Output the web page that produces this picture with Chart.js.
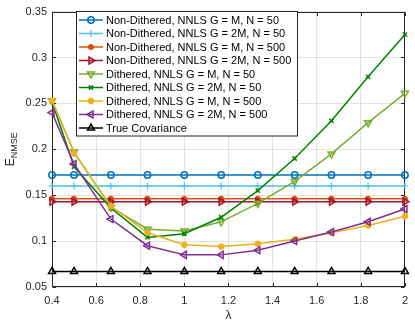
<!DOCTYPE html>
<html>
<head>
<meta charset="utf-8">
<script src="https://cdn.jsdelivr.net/npm/chart.js@4/dist/chart.umd.min.js"></script>
<style>
html, body { margin: 0; padding: 0; background: #fff; }
#wrap { width: 415px; height: 324px; }
</style>
</head>
<body>
<div id="wrap"><canvas id="nmseChart"></canvas></div>
<script>
// x values (lambda)
const lambdas = [0.4, 0.5, 0.667, 0.833, 1, 1.167, 1.333, 1.5, 1.667, 1.833, 2];

// series values
const nonDithM50   = [0.172, 0.172, 0.172, 0.172, 0.172, 0.172, 0.172, 0.172, 0.172, 0.172, 0.172];
const nonDith2M50  = [0.160, 0.160, 0.160, 0.160, 0.160, 0.160, 0.160, 0.160, 0.160, 0.160, 0.160];
const nonDithM500  = [0.146, 0.146, 0.146, 0.146, 0.146, 0.146, 0.146, 0.146, 0.146, 0.146, 0.146];
const nonDith2M500 = [0.143, 0.143, 0.143, 0.143, 0.143, 0.143, 0.143, 0.143, 0.143, 0.143, 0.143];
const dithM50      = [0.253, 0.197, 0.137, 0.113, 0.111, 0.121, 0.141, 0.165, 0.195, 0.229, 0.261];
const dith2M50     = [0.252, 0.181, 0.136, 0.104, 0.108, 0.126, 0.155, 0.190, 0.231, 0.279, 0.325];
const dithM500     = [0.253, 0.196, 0.138, 0.109, 0.096, 0.094, 0.097, 0.102, 0.109, 0.117, 0.127];
const dith2M500    = [0.240, 0.184, 0.124, 0.095, 0.085, 0.085, 0.090, 0.100, 0.110, 0.121, 0.135];
const trueCov      = [0.067, 0.067, 0.067, 0.067, 0.067, 0.067, 0.067, 0.067, 0.067, 0.067, 0.067];

const seriesLabels = [
    'Non-Dithered, NNLS G = M, N = 50',
    'Non-Dithered, NNLS G = 2M, N = 50',
    'Non-Dithered, NNLS G = M, N = 500',
    'Non-Dithered, NNLS G = 2M, N = 500',
    'Dithered, NNLS G = M, N = 50',
    'Dithered, NNLS G = 2M, N = 50',
    'Dithered, NNLS G = M, N = 500',
    'Dithered, NNLS G = 2M, N = 500',
    'True Covariance'
];
const seriesValues = [nonDithM50, nonDith2M50, nonDithM500, nonDith2M500, dithM50, dith2M50, dithM500, dith2M500, trueCov];

const xTicks = [0.4, 0.6, 0.8, 1, 1.2, 1.4, 1.6, 1.8, 2];
const yTicks = [0.05, 0.1, 0.15, 0.2, 0.25, 0.3, 0.35];

// styling per series
const colors = ['#0072BD', '#4DBEEE', '#D95319', '#A2142F', '#77AC30', '#008000', '#EDB120', '#7E2F8E', '#000000'];
const markers = [
    {style: 'circle', rot: 0, r: 3.2, bw: 1.5},
    {style: 'cross', rot: 0, r: 3.5, bw: 1.2},
    {style: 'star', rot: 0, r: 3, bw: 2.5},
    {style: 'triangle', rot: 90, r: 4, bw: 1.5},
    {style: 'triangle', rot: 180, r: 4, bw: 1.5},
    {style: 'crossRot', rot: 0, r: 3, bw: 1.5},
    {style: 'star', rot: 0, r: 3.2, bw: 2.8},
    {style: 'triangle', rot: 270, r: 4, bw: 1.5},
    {style: 'triangle', rot: 0, r: 4, bw: 1.5}
];

const datasets = seriesValues.map((vals, i) => ({
    label: seriesLabels[i],
    data: vals.map((v, j) => ({x: lambdas[j], y: v})),
    borderColor: colors[i],
    backgroundColor: colors[i],
    borderWidth: 1.5,
    pointStyle: markers[i].style,
    rotation: markers[i].rot,
    pointRadius: markers[i].r,
    pointBorderWidth: markers[i].bw,
    pointBorderColor: colors[i],
    pointBackgroundColor: 'rgba(255,255,255,0)',
    tension: 0,
    clip: false,
    order: seriesValues.length - i
}));

const axisColor = '#262626';
const fontFamily = '"Liberation Sans", Arial, Helvetica, sans-serif';

// box round the axes with inward tick marks, like matlab
const boxPlugin = {
    id: 'box',
    beforeDatasetsDraw(chart) {
        const {ctx, chartArea: a, scales} = chart;
        const L = Math.round(a.left) + 0.5, R = Math.round(a.right) - 0.5;
        const T = Math.round(a.top) + 0.5, B = Math.round(a.bottom) - 0.5;
        ctx.save();
        ctx.strokeStyle = axisColor;
        ctx.lineWidth = 1;
        ctx.strokeRect(L, T, R - L, B - T);
        ctx.beginPath();
        xTicks.forEach(t => {
            const px = Math.round(scales.x.getPixelForValue(t)) + 0.5;
            ctx.moveTo(px, B); ctx.lineTo(px, B - 3.5);
            ctx.moveTo(px, T); ctx.lineTo(px, T + 3.5);
        });
        yTicks.forEach(t => {
            const py = Math.round(scales.y.getPixelForValue(t)) + 0.5;
            ctx.moveTo(L, py); ctx.lineTo(L + 3.5, py);
            ctx.moveTo(R, py); ctx.lineTo(R - 3.5, py);
        });
        ctx.stroke();
        ctx.restore();
    },
    afterDraw(chart) {
        const {ctx, chartArea: a} = chart;
        ctx.save();
        // x label
        ctx.fillStyle = axisColor;
        ctx.font = '12px ' + fontFamily;
        ctx.textAlign = 'center';
        ctx.textBaseline = 'middle';
        ctx.fillText('\u03bb', (a.left + a.right) / 2, 316);
        // y label E_NMSE
        ctx.translate(11, (a.top + a.bottom) / 2);
        ctx.rotate(-Math.PI / 2);
        ctx.textAlign = 'left';
        ctx.font = '12px ' + fontFamily;
        const eW = ctx.measureText('E').width;
        ctx.font = '9px ' + fontFamily;
        const sW = ctx.measureText('NMSE').width;
        const start = -(eW + sW) / 2;
        ctx.font = '12px ' + fontFamily;
        ctx.fillText('E', start, 0);
        ctx.font = '9px ' + fontFamily;
        ctx.fillText('NMSE', start + eW, 3.5);
        ctx.restore();

        // legend box
        const lx = 76.5, ly = 11.5, lw = 221, lh = 124.5, rowH = 13.5;
        ctx.save();
        ctx.fillStyle = '#ffffff';
        ctx.fillRect(lx, ly, lw, lh);
        ctx.strokeStyle = axisColor;
        ctx.lineWidth = 1;
        ctx.strokeRect(lx, ly, lw, lh);
        ctx.font = '11px ' + fontFamily;
        ctx.textBaseline = 'middle';
        seriesLabels.forEach((lab, i) => {
            const cy = 20 + i * rowH;
            ctx.strokeStyle = colors[i];
            ctx.lineWidth = 1.5;
            ctx.beginPath();
            ctx.moveTo(79, cy);
            ctx.lineTo(103, cy);
            ctx.stroke();
            ctx.fillStyle = 'rgba(255,255,255,0)';
            ctx.lineWidth = markers[i].bw;
            Chart.helpers.drawPoint(ctx, {
                pointStyle: markers[i].style,
                rotation: markers[i].rot,
                radius: markers[i].r,
                borderWidth: markers[i].bw
            }, 91, cy);
            ctx.fillStyle = '#000000';
            ctx.fillText(lab, 106, cy + 0.5);
        });
        ctx.restore();
    }
};

const ctx = document.getElementById('nmseChart');
new Chart(ctx, {
    type: 'line',
    data: { datasets: datasets },
    options: {
        responsive: true,
        maintainAspectRatio: false,
        animation: false,
        layout: { padding: { top: 7, right: 8, left: 0, bottom: 0 } },
        scales: {
            x: {
                type: 'linear',
                min: 0.4,
                max: 2,
                afterFit: s => { s.height = 37; },
                afterBuildTicks: s => { s.ticks = xTicks.map(v => ({value: v})); },
                grid: { color: 'rgba(38,38,38,0.13)', drawTicks: false },
                border: { display: false },
                ticks: {
                    padding: 7,
                    color: axisColor,
                    font: { family: fontFamily, size: 11 },
                    callback: v => String(parseFloat(v.toFixed(2)))
                }
            },
            y: {
                min: 0.05,
                max: 0.35,
                afterFit: s => { s.width = 52; },
                afterBuildTicks: s => { s.ticks = yTicks.map(v => ({value: v})); },
                grid: { color: 'rgba(38,38,38,0.13)', drawTicks: false },
                border: { display: false },
                ticks: {
                    padding: 5,
                    color: axisColor,
                    font: { family: fontFamily, size: 11 },
                    callback: v => String(parseFloat(v.toFixed(2)))
                }
            }
        },
        plugins: {
            legend: { display: false },
            tooltip: { enabled: false }
        }
    },
    plugins: [boxPlugin]
});
</script>
</body>
</html>
